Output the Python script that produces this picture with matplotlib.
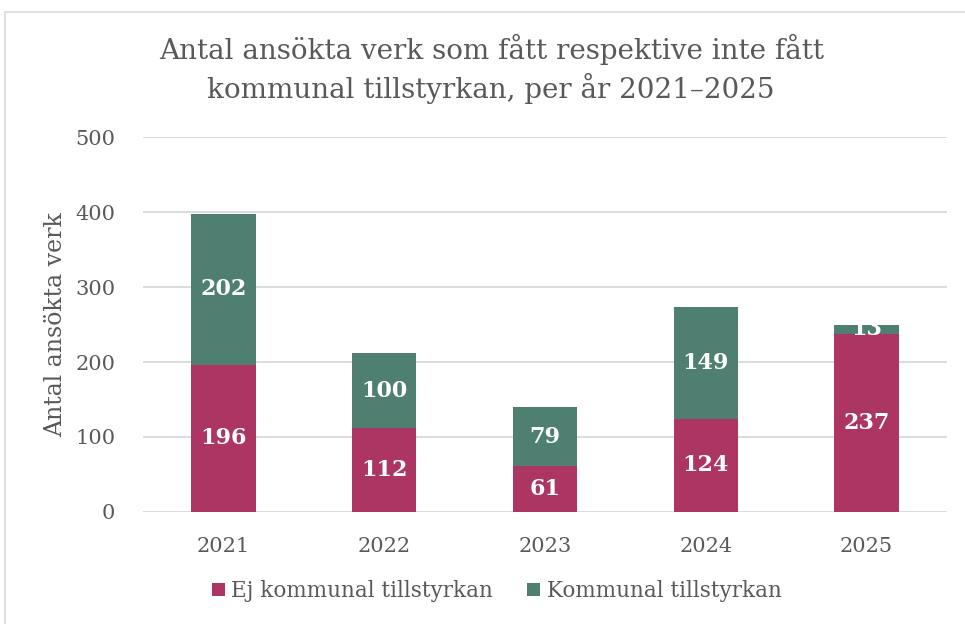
import matplotlib.pyplot as plt
import matplotlib.patches as patches
import numpy as np

years = ['2021', '2022', '2023', '2024', '2025']
ej_tillstyrkan = [196, 112, 61, 124, 237]
tillstyrkan = [202, 100, 79, 149, 13]

col_ej = '#AD3564'
col_kom = '#4E7F71'
txt = '#595959'

plt.rcParams['font.family'] = ['DejaVu Serif']

fig = plt.figure(figsize=(9.65, 6.24), dpi=100)
ax = fig.add_axes([0.1482, 0.1795, 0.8331, 0.6009])

# light frame around the chart
fig.patches.append(patches.Rectangle((5 / 965, -0.01), 1.0, 1 - 12 / 624 + 0.01,
                                     transform=fig.transFigure, fill=False,
                                     edgecolor='#D9D9D9', linewidth=1.2))

x = np.arange(len(years))
w = 0.4
b1 = ax.bar(x, ej_tillstyrkan, w, color=col_ej, label='Ej kommunal tillstyrkan', zorder=3)
b2 = ax.bar(x, tillstyrkan, w, bottom=ej_tillstyrkan, color=col_kom,
            label='Kommunal tillstyrkan', zorder=3)

for rect, v in zip(b1, ej_tillstyrkan):
    ax.text(rect.get_x() + rect.get_width() / 2, rect.get_y() + v / 2, str(v),
            ha='center', va='center', color='white', fontsize=16, fontweight='bold', zorder=4)
for rect, v, b in zip(b2, tillstyrkan, ej_tillstyrkan):
    ax.text(rect.get_x() + rect.get_width() / 2, b + v / 2, str(v),
            ha='center', va='center', color='white', fontsize=16, fontweight='bold', zorder=4)

ax.set_xlim(-0.5, 4.5)
ax.set_ylim(0, 500)
ax.set_yticks(range(0, 501, 100))
ax.set_xticks(x)
ax.set_xticklabels(years)
ax.yaxis.grid(True, color='#D9D9D9', linewidth=1.3, zorder=0)
ax.set_axisbelow(True)
for s in ax.spines.values():
    s.set_visible(False)
ax.tick_params(axis='both', length=0, labelsize=15, colors=txt)
ax.tick_params(axis='y', pad=20)
ax.tick_params(axis='x', pad=18)
ax.set_ylabel('Antal ansökta verk', fontsize=17, color=txt, labelpad=6)

fig.suptitle('Antal ansökta verk som fått respektive inte fått\nkommunal tillstyrkan, per år 2021–2025',
             x=0.509, y=0.945, fontsize=20, color=txt, linespacing=1.3)

ax.legend(loc='upper center', bbox_to_anchor=(0.44, -0.13), ncol=2, frameon=False,
          fontsize=15.5, labelcolor=txt, handlelength=0.6, handleheight=0.6,
          handletextpad=0.3, columnspacing=1.6)

fig.savefig('out.png', dpi=100)
